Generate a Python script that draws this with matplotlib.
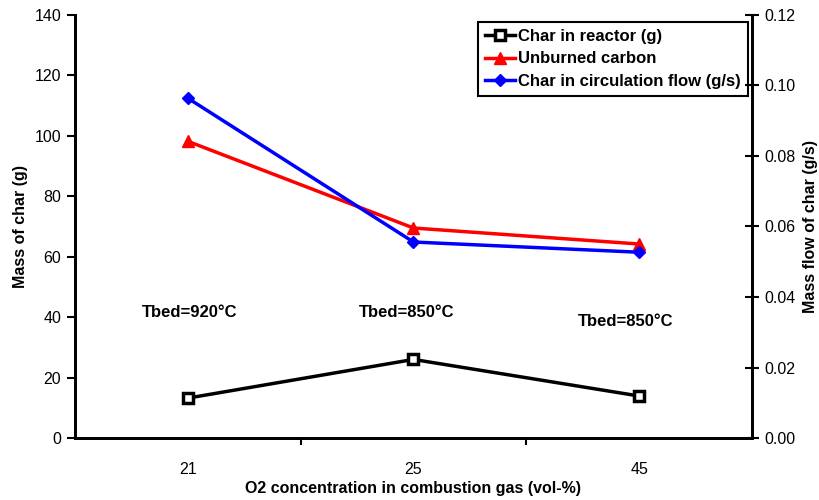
import matplotlib
matplotlib.use("Agg")
import matplotlib.pyplot as plt
from matplotlib.ticker import FixedLocator, NullFormatter

plt.rcParams['font.family'] = ['Liberation Sans', 'DejaVu Sans']

categories = ['21', '25', '45']
char_reactor = [13.2, 26.0, 13.9]
unburned_carbon = [98.2, 69.5, 64.2]
char_circulation = [0.0964, 0.0556, 0.0527]
tbed_labels = ['Tbed=920°C', 'Tbed=850°C', 'Tbed=850°C']
tbed_x = [0.01, 0.97, 1.94]
tbed_y = [41.7, 41.7, 38.7]

fig = plt.figure(figsize=(8.2, 5.0), dpi=100)
ax = fig.add_axes([0.0915, 0.124, 0.8255, 0.846])
ax2 = ax.twinx()

x = list(range(len(categories)))
l1, = ax.plot(x, char_reactor, color='black', lw=2.5, marker='s', ms=7,
              mfc='white', mec='black', mew=2.5, label='Char in reactor (g)')
l2, = ax.plot(x, unburned_carbon, color='red', lw=2.5, marker='^', ms=9,
              mfc='red', mec='red', label='Unburned carbon')
l3, = ax2.plot(x, char_circulation, color='blue', lw=2.5, marker='D', ms=6.5,
               mfc='blue', mec='blue', label='Char in circulation flow (g/s)')

ax.set_xlim(-0.5, 2.5)
ax.set_ylim(0, 140)
ax2.set_ylim(0, 0.12)
ax.set_yticks(range(0, 141, 20))
rt = [0, 0.02, 0.04, 0.06, 0.08, 0.10, 0.12]
ax2.set_yticks(rt)
ax2.set_yticklabels(['%.2f' % v for v in rt])

ax.set_xticks(x)
ax.set_xticklabels(categories)
ax.tick_params(axis='x', which='major', length=0, pad=17, labelsize=11.5)
ax.xaxis.set_minor_locator(FixedLocator([0.5, 1.5]))
ax.xaxis.set_minor_formatter(NullFormatter())
ax.tick_params(axis='x', which='minor', length=5, width=1.5, direction='out')

ax.tick_params(axis='y', direction='out', length=6, width=1.5, labelsize=11.5, pad=4)
ax2.tick_params(axis='y', direction='inout', length=10, width=1.5, labelsize=11.5, pad=4)

for a in (ax, ax2):
    a.spines['top'].set_visible(False)
    for s in ('left', 'right', 'bottom'):
        a.spines[s].set_linewidth(2)

ax.set_xlabel('O2 concentration in combustion gas (vol-%)', fontweight='bold', fontsize=11.5, labelpad=3)
ax.set_ylabel('Mass of char (g)', fontweight='bold', fontsize=11.5)
ax2.set_ylabel('Mass flow of char (g/s)', fontweight='bold', fontsize=11.5, labelpad=5)
ax.yaxis.set_label_coords(-0.07, 0.5)

for xi, lab, yv in zip(tbed_x, tbed_labels, tbed_y):
    ax.text(xi, yv, lab, ha='center', va='center', fontsize=12, fontweight='bold')

leg = ax.legend(handles=[l1, l2, l3], loc='upper right', bbox_to_anchor=(0.994, 0.983),
                frameon=True, fancybox=False, edgecolor='black', framealpha=1,
                prop={'weight': 'bold', 'size': 12}, handlelength=1.8, handletextpad=0.2,
                borderpad=0.4, labelspacing=0.45, borderaxespad=0)
leg.get_frame().set_linewidth(1.5)
leg.set_zorder(10)

fig.savefig('out.png', dpi=100)
